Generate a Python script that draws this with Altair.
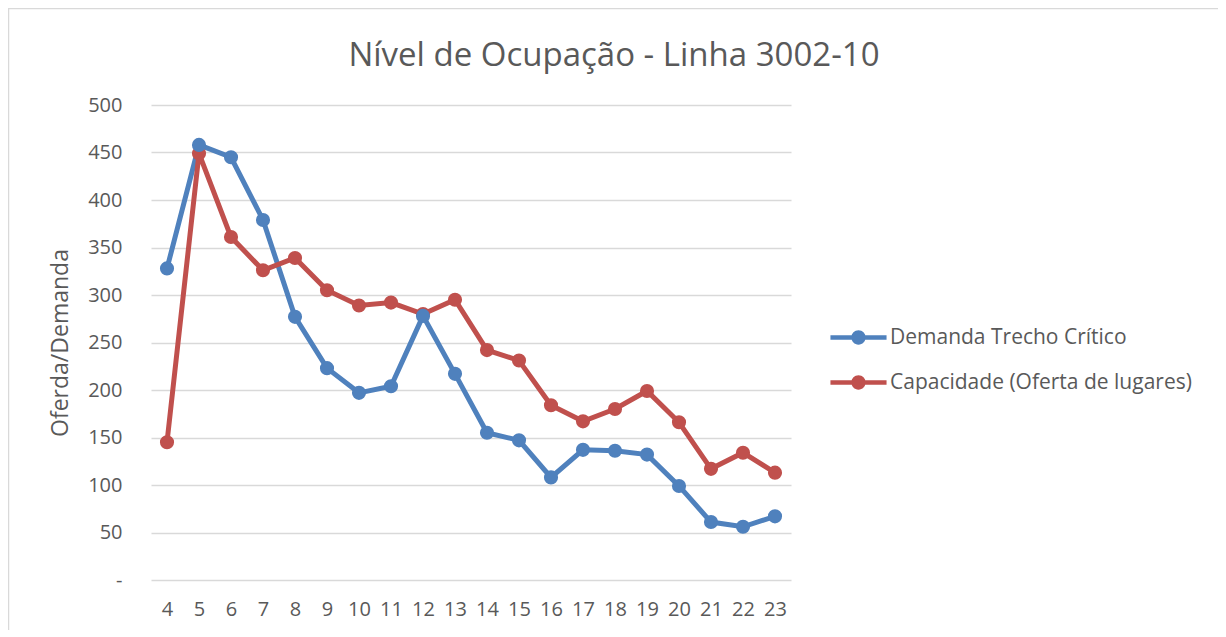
import altair as alt
import pandas as pd

hours = [str(h) for h in range(4, 24)]
demanda = [328, 458, 445, 379, 277, 223, 197, 204, 278, 217, 155, 147, 108, 137, 136, 132, 99, 61, 56, 67]
capacidade = [145, 449, 361, 326, 339, 305, 289, 292, 280, 295, 242, 231, 184, 167, 180, 199, 166, 117, 134, 113]
series_names = ["Demanda Trecho Crítico", "Capacidade (Oferta de lugares)"]
series_colors = ["#4F81BD", "#C0504D"]

rows = []
for h, d, c in zip(hours, demanda, capacidade):
    rows.append({"hora": h, "serie": series_names[0], "valor": d})
    rows.append({"hora": h, "serie": series_names[1], "valor": c})
df = pd.DataFrame(rows)

FONT = "Open Sans"
TXT = "#595959"

legend_symbol = "M-1.1,-0.09L1.1,-0.09L1.1,0.09L-1.1,0.09Z M0.28,0A0.28,0.28,0,1,1,-0.28,0A0.28,0.28,0,1,1,0.28,0Z"

lines = alt.Chart(df).mark_line(
    strokeWidth=5,
    point=alt.OverlayMarkDef(filled=True, size=200, opacity=1),
).encode(
    x=alt.X("hora:O", sort=hours, title=None,
            scale=alt.Scale(type="point", padding=0.5),
            axis=alt.Axis(labelAngle=0, labelFontSize=20, labelColor=TXT, labelFont=FONT,
                          ticks=False, domain=False, grid=False, labelPadding=19)),
    y=alt.Y("valor:Q", title="Oferda/Demanda",
            scale=alt.Scale(domain=[0, 500], nice=False),
            axis=alt.Axis(values=list(range(0, 501, 50)), labelFontSize=20, labelColor=TXT,
                          labelFont=FONT, ticks=False, domain=False, gridColor="#d9d9d9",
                          gridWidth=1.5, labelPadding=29,
                          labelExpr="datum.value == 0 ? '-  ' : datum.label",
                          titleFontSize=23, titleFont=FONT, titleColor=TXT,
                          titleFontWeight="normal", titlePadding=15)),
    color=alt.Color("serie:N", sort=series_names,
                    scale=alt.Scale(domain=series_names, range=series_colors),
                    legend=alt.Legend(title=None, orient="none", legendX=682, legendY=207,
                                      symbolType=legend_symbol, symbolSize=2601,
                                      symbolStrokeWidth=0, labelFontSize=21, labelFont=FONT,
                                      labelColor=TXT, rowPadding=9, labelOffset=6,
                                      labelLimit=400)),
    order=alt.Order("serie:N"),
)

frame = alt.Chart(pd.DataFrame({"a": [0]})).mark_rect(
    fill=None, stroke="#d9d9d9", strokeWidth=1.5
).encode(x=alt.value(-142.5), x2=alt.value(1068), y=alt.value(-96.5), y2=alt.value(560))

chart = alt.layer(frame, lines).properties(
    width=640, height=475,
    autosize=alt.AutoSizeParams(type="none"),
    padding={"left": 143, "top": 97, "right": 427, "bottom": 50},
    title=alt.TitleParams("Nível de Ocupação - Linha 3002-10", fontSize=33, font=FONT,
                          color=TXT, fontWeight="normal", anchor="middle", dx=143,
                          offset=0, baseline="alphabetic", dy=91),
).configure_view(stroke=None)

chart.save("out.html", embed_options={"renderer": "svg", "actions": False})
